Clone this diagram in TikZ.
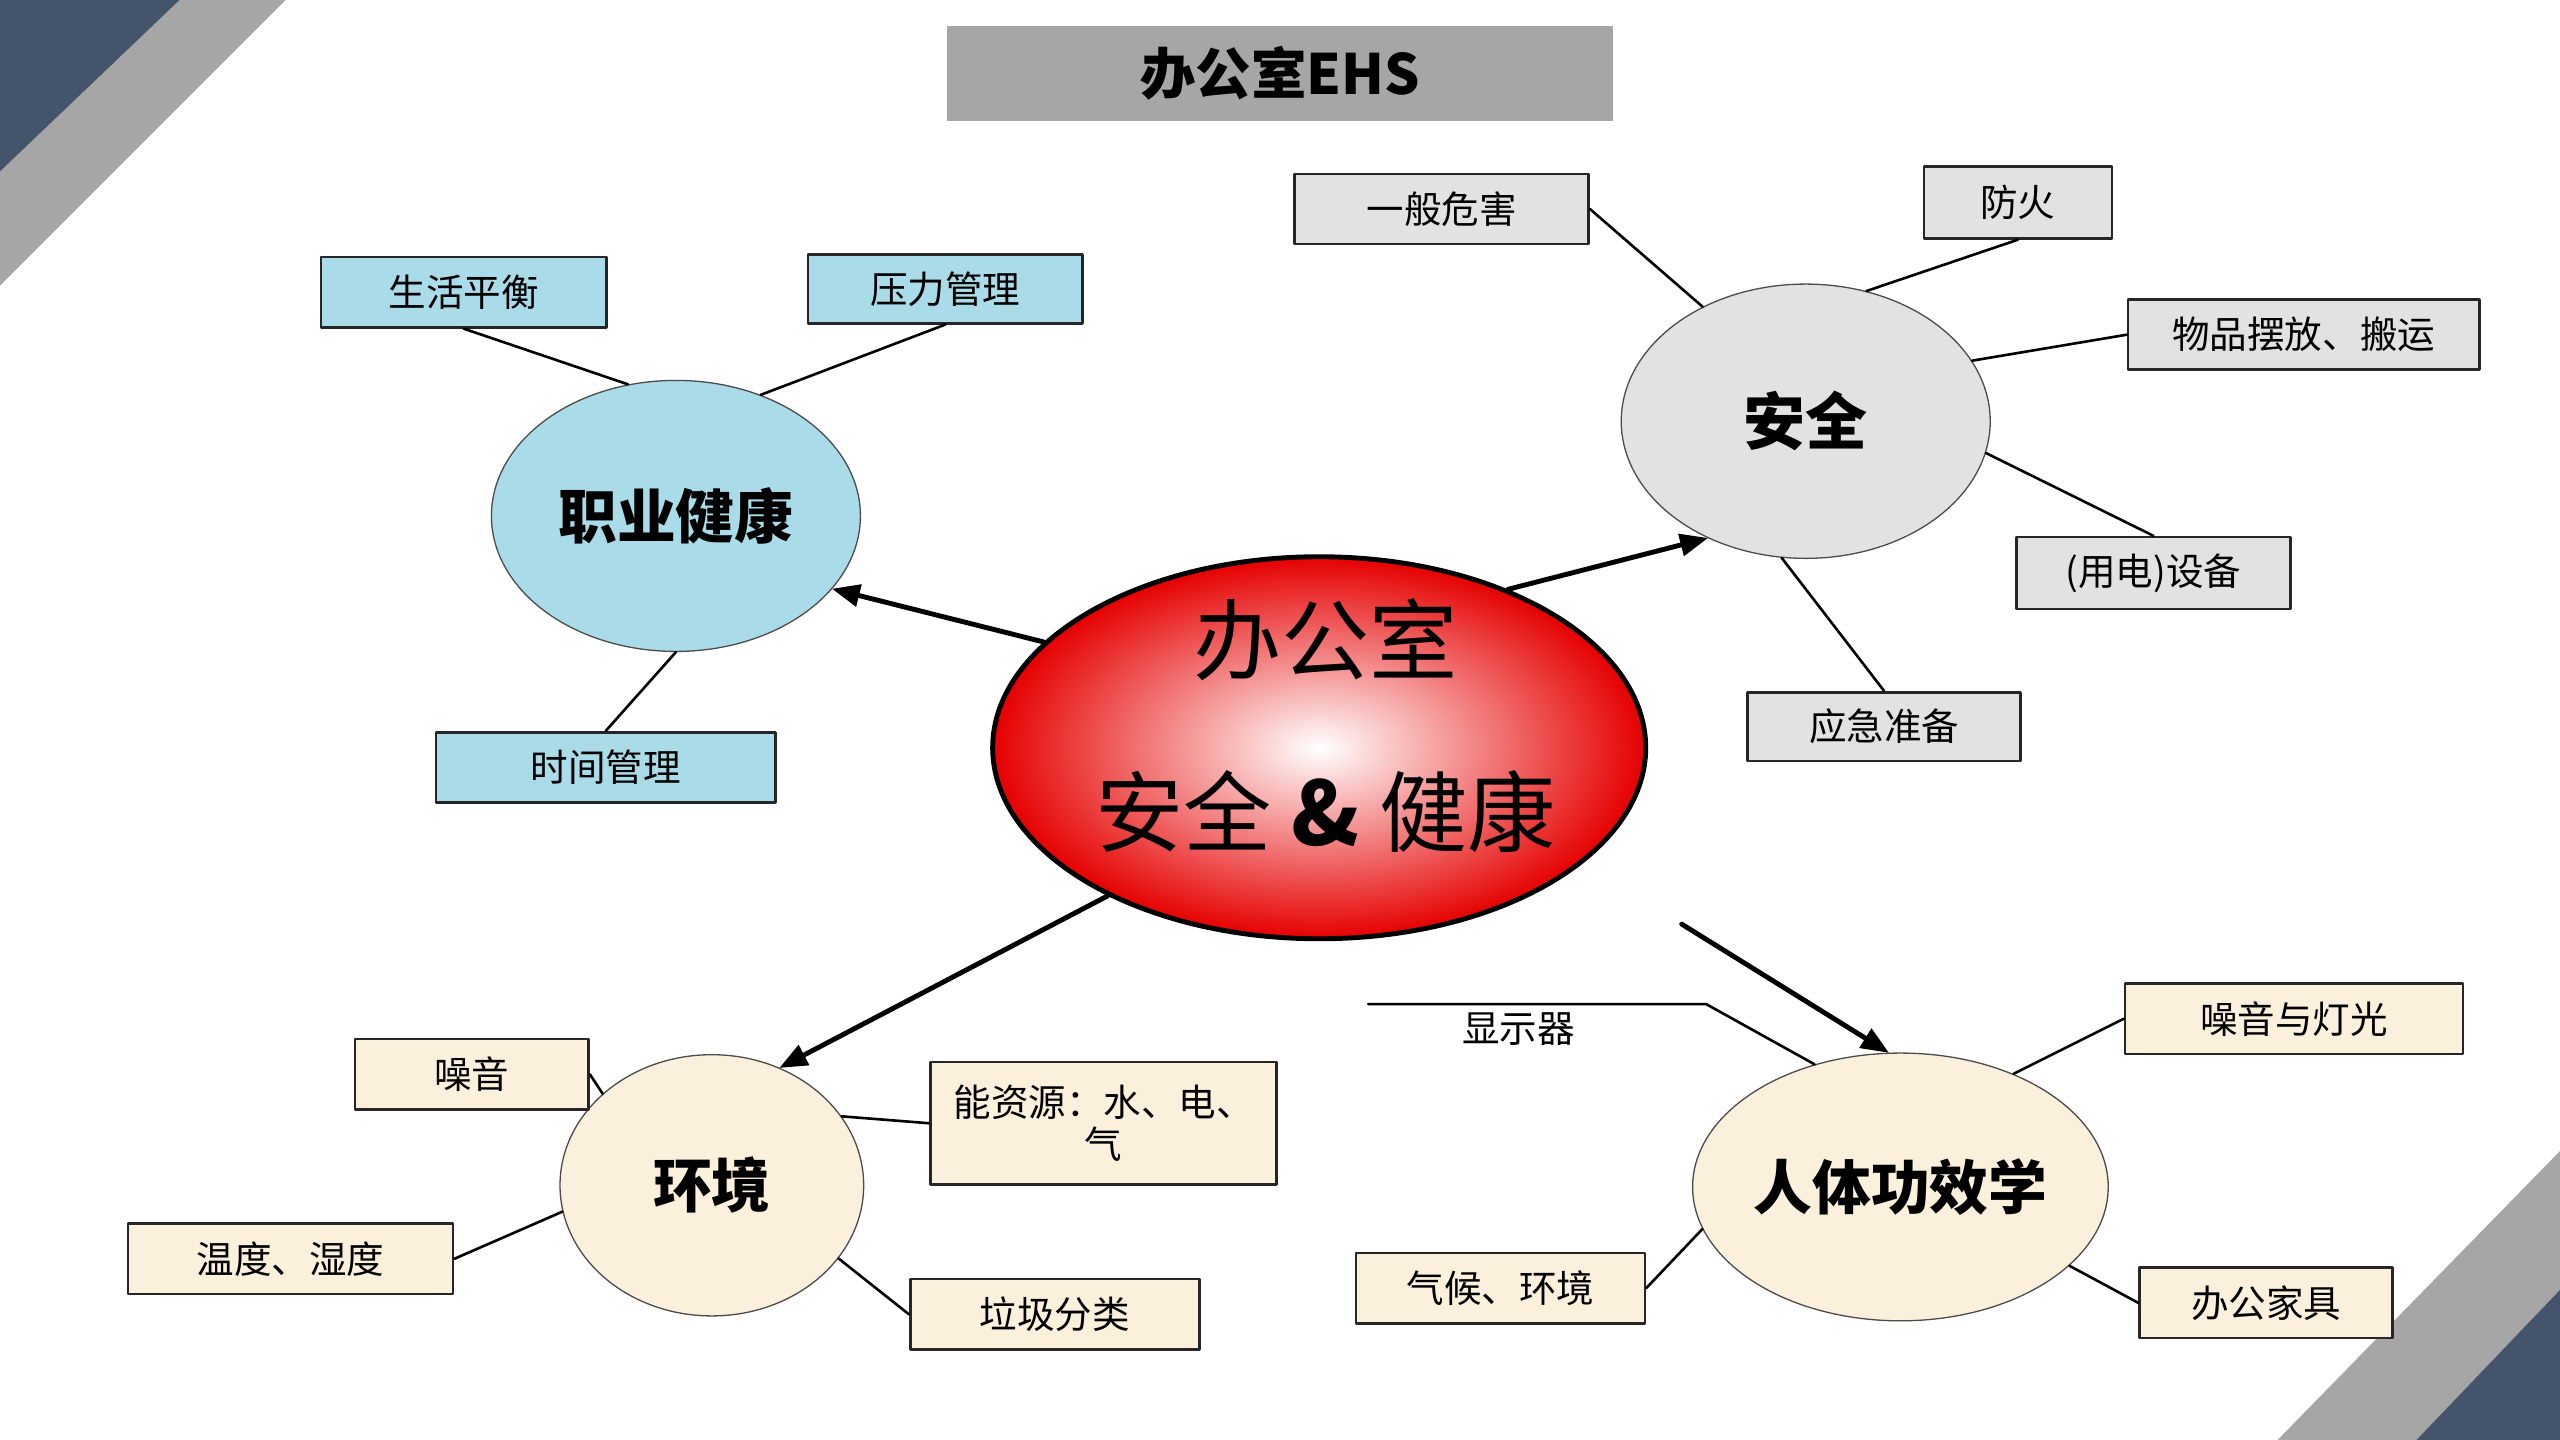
\documentclass[tikz,border=0pt]{standalone}
\usepackage{fontspec}
\setmainfont{Liberation Serif}
\newfontfamily\cjk{Noto Sans CJK SC}
\usetikzlibrary{arrows,shapes.geometric}
\definecolor{navy}{HTML}{44546A}
\definecolor{band}{HTML}{A6A6A6}
\definecolor{drop}{HTML}{A9DCE8}
\definecolor{stone}{HTML}{E2E2E2}
\definecolor{cream}{HTML}{FBF0DC}
\tikzset{
  topic/.style={ellipse,draw=black!70,line width=0.8pt,inner sep=0pt},
  leaf/.style={draw=black!85,line width=1.6pt,inner sep=0pt,font=\cjk\fontsize{23}{26}\selectfont},
  link/.style={line width=1.6pt},
  pointer/.style={->,>=triangle 45,line width=3pt}
}
\begin{document}
\begin{tikzpicture}[line cap=round,line join=round,x=1pt,y=-1pt]
\useasboundingbox (0,0) rectangle (1568,882);
\fill[white] (0,0) rectangle (1568,882);
% corners
\fill[band] (110,0) -- (175,0) -- (0,175) -- (0,105) -- cycle;
\fill[navy] (0,0) -- (110,0) -- (0,105) -- cycle;
\fill[band] (1568,705) -- (1568,790) -- (1480,882) -- (1395,882) -- cycle;
\fill[navy] (1568,790) -- (1568,882) -- (1480,882) -- cycle;
% title
\node[fill=band,minimum width=408,minimum height=58,font=\cjk\bfseries\fontsize{34}{36}\selectfont] (title) at (784,45) {办公室EHS};
% topics
\node[topic,draw=black,line width=3pt,minimum width=400,minimum height=234,inner color=white,outer color=red!90!black] (office) at (808,458) {};
\node[font=\cjk\fontsize{54}{60}\selectfont] (officeA) at (812,392) {办公室};
\node[font=\cjk\fontsize{54}{60}\selectfont] (officeB) at (812,497) {安全 \textbf{\&} 健康};
\node[topic,fill=drop,minimum width=226,minimum height=166,font=\cjk\bfseries\fontsize{36}{40}\selectfont] (health) at (414,316) {职业健康};
\node[topic,fill=stone,minimum width=226,minimum height=168,font=\cjk\bfseries\fontsize{38}{40}\selectfont] (safety) at (1106,258) {安全};
\node[topic,fill=cream,minimum width=186,minimum height=160,font=\cjk\bfseries\fontsize{36}{40}\selectfont] (env) at (436,726) {环境};
\node[topic,fill=cream,minimum width=226,minimum height=164,font=\cjk\bfseries\fontsize{36}{40}\selectfont] (ergo) at (1164,727) {人体功效学};
% leaves
\node[leaf,fill=drop,minimum width=175,minimum height=43] (balance) at (284,179) {生活平衡};
\node[leaf,fill=drop,minimum width=168,minimum height=42] (stress) at (579,177) {压力管理};
\node[leaf,fill=drop,minimum width=208,minimum height=43] (time) at (371,470) {时间管理};
\node[leaf,fill=stone,minimum width=180,minimum height=43] (hazard) at (883,128) {一般危害};
\node[leaf,fill=stone,minimum width=115,minimum height=44] (fire) at (1236,124) {防火};
\node[leaf,fill=stone,minimum width=215,minimum height=43] (goods) at (1411,205) {物品摆放、搬运};
\node[leaf,fill=stone,minimum width=168,minimum height=44] (power) at (1319,351) {(用电)设备};
\node[leaf,fill=stone,minimum width=167,minimum height=42] (emerg) at (1154,445) {应急准备};
\node[leaf,fill=cream,minimum width=143,minimum height=43] (noise) at (289,658) {噪音};
\node[leaf,fill=cream,minimum width=212,minimum height=75,align=center] (energy) at (676,688) {能资源：水、电、\\气};
\node[leaf,fill=cream,minimum width=199,minimum height=43] (temp) at (178,771) {温度、湿度};
\node[leaf,fill=cream,minimum width=177,minimum height=43] (waste) at (646,805) {垃圾分类};
\node[leaf,fill=cream,minimum width=207,minimum height=43] (light) at (1405,624) {噪音与灯光};
\node[leaf,fill=cream,minimum width=155,minimum height=43] (desk) at (1388,798) {办公家具};
\node[leaf,fill=cream,minimum width=177,minimum height=43] (climate) at (919,789) {气候、环境};
\node[font=\cjk\fontsize{23}{26}\selectfont] (screen) at (930,630) {显示器};
\coordinate (screenL) at (838,615);
\coordinate (screenR) at (1045,615);
% links
\draw[link] (balance.south) -- (health.110);
\draw[link] (stress.south) -- (health.55);
\draw[link] (time.north) -- (health.-90);
\draw[link] (hazard.east) -- (safety.132);
\draw[link] (fire.south) -- (safety.65);
\draw[link] (goods.west) -- (safety.20);
\draw[link] (power.north) -- (safety.-10);
\draw[link] (emerg.north) -- (safety.-100);
\draw[link] (noise.east) -- (env.140);
\draw[link] (energy.west) -- (env.28);
\draw[link] (temp.east) -- (env.-170);
\draw[link] (waste.west) -- (env.-30);
\draw[link] (light.west) -- (ergo.45);
\draw[link] (desk.west) -- (ergo.-25);
\draw[link] (climate.east) -- (ergo.-168);
\draw[link] (screenL) -- (screenR) -- (ergo.125);
% pointers
\draw[pointer] (office.159) -- (health.-25);
\draw[pointer] (office.40) -- (safety.-130);
\draw[pointer] (office.-145) -- (env.60);
\draw[pointer] (1030,566) -- (ergo.95);
\end{tikzpicture}
\end{document}
